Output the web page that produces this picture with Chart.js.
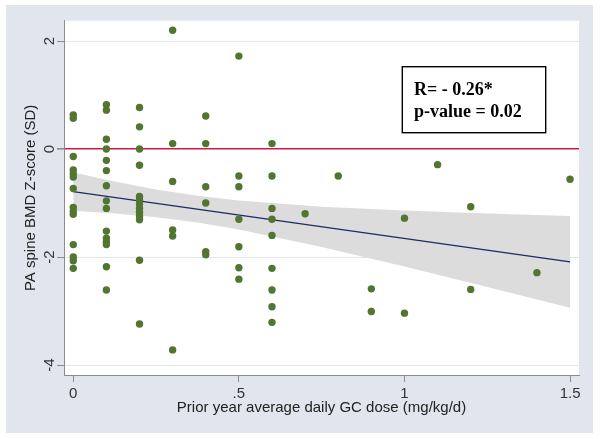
<!DOCTYPE html>
<html><head><meta charset="utf-8">
<script src="https://cdn.jsdelivr.net/npm/chart.js@4"></script>
<style>html,body{margin:0;padding:0;background:#fff}</style>
</head><body>
<canvas id="c" width="600" height="439" style="display:block;width:600px;height:439px"></canvas>
<script>
const xTickValues = [0, 0.5, 1, 1.5];
const xTickLabels = ['0', '.5', '1', '1.5'];
const yTickValues = [-4, -2, 0, 2];
const yTickLabels = ['-4', '-2', '0', '2'];
const xTitle = 'Prior year average daily GC dose (mg/kg/d)';
const yTitle = 'PA spine BMD Z-score (SD)';
const statLines = ['R= - 0.26*', 'p-value = 0.02'];

const dose = [
  0,0,0,0,0,0,0,0,0,0,0,0,0,0,
  0.1,0.1,0.1,0.1,0.1,0.1,0.1,0.1,0.1,0.1,0.1,0.1,0.1,0.1,0.1,
  0.2,0.2,0.2,0.2,0.2,0.2,0.2,0.2,0.2,0.2,0.2,0.2,0.2,
  0.3,0.3,0.3,0.3,0.3,0.3,
  0.4,0.4,0.4,0.4,0.4,0.4,
  0.5,0.5,0.5,0.5,0.5,0.5,0.5,
  0.6,0.6,0.6,0.6,0.6,0.6,0.6,0.6,0.6,
  0.7, 0.8, 0.9,0.9, 1.0,1.0, 1.1, 1.2,1.2, 1.4, 1.5
];
const zscore = [
  0.63,0.57,-0.14,-0.39,-0.46,-0.52,-0.73,-1.08,-1.15,-1.21,-1.77,-2.0,-2.07,-2.21,
  0.82,0.72,0.18,0,-0.21,-0.4,-0.68,-0.96,-1.1,-1.52,-1.65,-1.72,-1.77,-2.18,-2.61,
  0.77,0.41,0,-0.3,-0.88,-0.95,-1.02,-1.1,-1.17,-1.24,-1.31,-2.06,-3.24,
  2.2,0.1,-0.6,-1.5,-1.61,-3.72,
  0.61,0.1,-0.7,-1.0,-1.9,-1.96,
  1.72,-0.5,-0.7,-1.3,-1.81,-2.2,-2.41,
  0.1,-0.5,-1.1,-1.3,-1.6,-2.21,-2.61,-2.92,-3.21,
  -1.2, -0.5, -2.59,-3.01, -1.28,-3.04, -0.29, -1.07,-2.6, -2.29, -0.56
];
const fitDose = [0, 1.5];
const fitZ = [-0.79, -2.09];
const bandDose = [0, 0.125, 0.25, 0.375, 0.5, 0.75, 1, 1.25, 1.5];
const bandUpper = [-0.435, -0.60, -0.748, -0.867, -0.955, -1.067, -1.137, -1.192, -1.24];
const bandLower = [-1.145, -1.195, -1.266, -1.363, -1.491, -1.813, -2.177, -2.554, -2.94];

const decor = {
  id: 'decor',
  beforeDraw(chart) {
    const {ctx, chartArea: a} = chart;
    ctx.save();
    ctx.fillStyle = '#ffffff';
    ctx.fillRect(0, 0, chart.width, chart.height);
    ctx.fillStyle = '#e0e5ee';
    ctx.fillRect(6, 5, 587, 428);
    ctx.fillStyle = '#ffffff';
    ctx.fillRect(a.left, a.top, a.right - a.left, a.bottom - a.top);
    ctx.restore();
  },
  afterDraw(chart) {
    const {ctx, chartArea: a} = chart;
    const ys = chart.scales.y;
    ctx.save();
    ctx.fillStyle = '#333333';
    ctx.font = '15px "Liberation Sans", Arial, sans-serif';
    ctx.textAlign = 'center';
    ctx.textBaseline = 'alphabetic';
    yTickValues.forEach((v, i) => {
      const py = ys.getPixelForValue(v);
      ctx.save();
      ctx.translate(a.left - 10.5, py);
      ctx.rotate(-Math.PI / 2);
      ctx.fillText(yTickLabels[i], 0, 0);
      ctx.restore();
    });
    // statistics box
    const bx = a.left + 338.3, by = a.top + 46, bw = 143.4, bh = 66;
    ctx.fillStyle = '#ffffff';
    ctx.fillRect(bx, by, bw, bh);
    ctx.strokeStyle = '#000000';
    ctx.lineWidth = 1.4;
    ctx.strokeRect(bx, by, bw, bh);
    ctx.fillStyle = '#000000';
    ctx.font = 'bold 18px "Liberation Serif", "Times New Roman", serif';
    ctx.textAlign = 'left';
    ctx.fillText(statLines[0], bx + 11.7, by + 28.3);
    ctx.fillText(statLines[1], bx + 11.7, by + 50);
    ctx.restore();
  }
};

new Chart(document.getElementById('c'), {
  type: 'scatter',
  data: {
    datasets: [
      {
        label: 'observed',
        data: dose.map((x, i) => ({x: x, y: zscore[i]})),
        pointRadius: 3.7,
        pointHoverRadius: 3.7,
        pointBackgroundColor: '#527530',
        pointBorderWidth: 0,
        pointBorderColor: '#527530'
      },
      {
        type: 'line',
        label: 'fit',
        data: fitDose.map((x, i) => ({x: x, y: fitZ[i]})),
        pointRadius: 0,
        borderColor: '#1c2a66',
        borderWidth: 1.2,
        fill: false,
        tension: 0
      },
      {
        type: 'line',
        label: 'ci upper',
        data: bandDose.map((x, i) => ({x: x, y: bandUpper[i]})),
        pointRadius: 0,
        borderWidth: 0,
        borderColor: 'rgba(0,0,0,0)',
        backgroundColor: '#dcdcdc',
        fill: '+1',
        tension: 0
      },
      {
        type: 'line',
        label: 'ci lower',
        data: bandDose.map((x, i) => ({x: x, y: bandLower[i]})),
        pointRadius: 0,
        borderWidth: 0,
        borderColor: 'rgba(0,0,0,0)',
        fill: false,
        tension: 0
      }
    ]
  },
  options: {
    responsive: false,
    animation: false,
    devicePixelRatio: 1,
    events: [],
    layout: {padding: {left: 0, right: 21, top: 20.7, bottom: 0}},
    plugins: {legend: {display: false}, tooltip: {enabled: false}},
    scales: {
      x: {
        type: 'linear',
        min: -0.028,
        max: 1.527,
        afterBuildTicks: s => { s.ticks = xTickValues.map(v => ({value: v})); },
        afterFit: s => { s.height = 64; },
        grid: {drawOnChartArea: false, drawTicks: true, tickLength: 7, tickColor: '#8c8c8c'},
        border: {display: true, color: '#8c8c8c', width: 1},
        ticks: {
          padding: 3,
          color: '#333333',
          font: {family: '"Liberation Sans", Arial, sans-serif', size: 15},
          maxRotation: 0,
          autoSkip: false,
          callback: v => xTickLabels[xTickValues.indexOf(v)]
        },
        title: {
          display: true,
          text: xTitle,
          color: '#222222',
          font: {family: '"Liberation Sans", Arial, sans-serif', size: 15},
          padding: {top: 0, bottom: 22.5}
        }
      },
      y: {
        type: 'linear',
        min: -4.185,
        max: 2.376,
        afterBuildTicks: s => { s.ticks = yTickValues.map(v => ({value: v})); },
        afterFit: s => { s.width = 64; },
        grid: {
          drawOnChartArea: true,
          drawTicks: true,
          tickLength: 7,
          tickColor: '#8c8c8c',
          color: c => (c.tick && c.tick.value === 0) ? '#d01848' : '#e1e6ee',
          lineWidth: c => (c.tick && c.tick.value === 0) ? 1.6 : 1
        },
        border: {display: true, color: '#8c8c8c', width: 1},
        ticks: {display: false},
        title: {
          display: true,
          text: yTitle,
          color: '#222222',
          font: {family: '"Liberation Sans", Arial, sans-serif', size: 15},
          padding: {top: 22, bottom: 0}
        }
      }
    }
  },
  plugins: [decor]
});
</script>
</body></html>
